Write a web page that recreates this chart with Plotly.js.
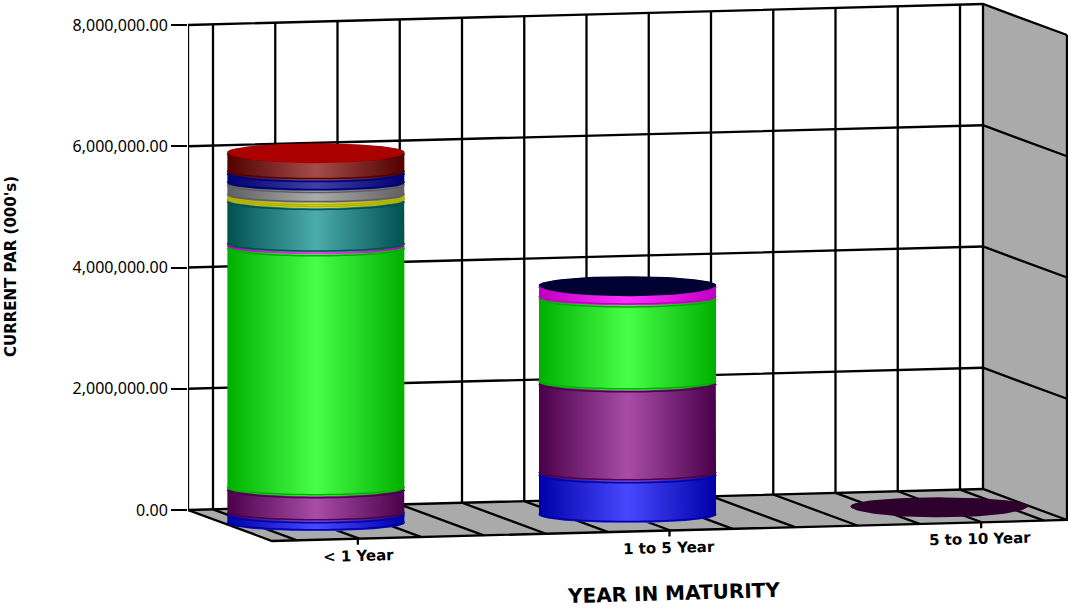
<!DOCTYPE html>
<html><head><meta charset="utf-8">
<script src="https://cdn.plot.ly/plotly-3.0.1.min.js"></script>
<style>html,body{margin:0;padding:0;background:#fff}#c{width:1068px;height:613px}</style>
</head><body><div id="c"></div>
<script>
// ---- data ----
const categories = ["< 1 Year", "1 to 5 Year", "5 to 10 Year"];
const tickValues = [0, 2000000, 4000000, 6000000, 8000000];
const blue     = [165000, 689000, 0];
const purple   = [413000, 1500000, 0];
const green    = [3990000, 1400000, 0];
const magenta  = [30000, 200000, 0];
const teal     = [735000, 0, 0];
const yellow   = [80000, 0, 0];
const gray     = [200000, 0, 0];
const navy     = [180000, 0, 0];
const darkRed  = [330000, 0, 0];
const midnight = [0, 5000, 0];
const plum     = [0, 0, 10000];
const seriesValues = [blue, purple, green, magenta, teal, yellow, gray, navy, darkRed, midnight, plum];
const seriesEdge   = ["#0000a8","#4a004a","#00b000","#c000c0","#005050","#b0b000","#606060","#000070","#520000","#000033","#2e002e"];
const seriesBright = ["#4848ff","#a84ca8","#48ff48","#ff30ff","#4cacac","#f0f040","#acacac","#4040a8","#a44c4c","#000033","#2e002e"];
const seriesCap    = ["#0000ff","#800080","#00ff00","#ff00ff","#008080","#ffff00","#808080","#000033","#aa0000","#000033","#2e002e"];

// ---- oblique projection of the 3D box onto the library's axes ----
const W = 1068, H = 613, LEFT = 188, Y0PX = 510, PXPERUNIT = 485 / 8000000;
const WALLW = 795, DX = 84, DY = 31, RISE = 21;
const xUnit = p => (p - LEFT) / WALLW;
const yUnit = p => (Y0PX - p) / PXPERUNIT;
function proj(X, Z, V) {            // X along wall 0..1, Z depth 0..1, V value
  return [X + Z * DX / WALLW, V + (X * RISE - Z * DY) / PXPERUNIT];
}
function line(pts, color, width) {
  return {type:"scatter", mode:"lines", x:pts.map(p=>p[0]), y:pts.map(p=>p[1]),
    line:{color:color, width:width, simplify:false}, hoverinfo:"skip", showlegend:false, cliponaxis:false};
}
function poly(pts, color) {
  return {type:"scatter", mode:"lines", x:pts.map(p=>p[0]), y:pts.map(p=>p[1]), fill:"toself",
    fillcolor:color, line:{color:color, width:0}, hoverinfo:"skip", showlegend:false};
}
const traces = [];
const WALL = "#aaaaaa", K = "#000000", LW = 2.3;
// floor and right wall
traces.push(poly([proj(0,0,0),proj(1,0,0),proj(1,1,0),proj(0,1,0),proj(0,0,0)], WALL));
traces.push(poly([proj(1,0,0),proj(1,0,8e6),proj(1,1,8e6),proj(1,1,0),proj(1,0,0)], WALL));
// gridlines
const FIRST = 25 / WALLW, STEP = 62.25 / WALLW;
const gridX = [0, 1];
for (let k = 0; k <= 12; k++) gridX.push(FIRST + k * STEP);
gridX.forEach(X => {
  traces.push(line([proj(X,0,0),proj(X,0,8e6)], K, LW));
  if (X > 0 && X < 1) traces.push(line([proj(X,0,0),proj(X,1,0)], K, LW));
});
tickValues.forEach(v => {
  traces.push(line([proj(0,0,v),proj(1,0,v),proj(1,1,v)], K, LW));
});
traces.push(line([proj(0,0,0),proj(0,1,0),proj(1,1,0),proj(1,1,8e6)], K, LW));
// category ticks on the floor's front edge
const catX = [0.108, 0.5, 0.892];
catX.forEach(X => {
  const a = proj(X,1,0);
  traces.push(line([a,[a[0], a[1] - 6 / PXPERUNIT]], K, LW));
});
// cylinders
const RX = 88.5 / WALLW, RY = 8 / PXPERUNIT, STEPS = 48;
function frontArc(cx, cy) { // left to right, along the near side
  const out = [];
  for (let i = 0; i <= STEPS; i++) {
    const t = Math.PI * i / STEPS;
    out.push([cx - RX * Math.cos(t), cy - RY * Math.sin(t)]);
  }
  return out;
}
function backArc(cx, cy, ryUp) { // right to left, along the far side
  const out = [];
  for (let i = 0; i <= STEPS; i++) {
    const t = Math.PI * i / STEPS;
    out.push([cx + RX * Math.cos(t), cy + ryUp * Math.sin(t)]);
  }
  return out;
}
catX.forEach((X, c) => {
  const base = proj(X, 0.5, 0), cx = base[0];
  let cum = base[1], topSeries = -1;
  seriesValues.forEach((vals, s) => {
    const v = vals[c];
    if (!v) return;
    const y0 = cum, y1 = cum + v;
    const pts = frontArc(cx, y0).concat(backArc(cx, y1, RY));
    pts.push(pts[0]);
    const t = poly(pts, seriesEdge[s]);
    t.fillgradient = {type:"horizontal",
      colorscale:[[0,seriesEdge[s]],[0.5,seriesBright[s]],[1,seriesEdge[s]]]};
    delete t.fillcolor;
    traces.push(t);
    if (v * PXPERUNIT >= 4) {
      const px = 1.5 / PXPERUNIT;
      traces.push(line(frontArc(cx, y0 + px), seriesEdge[s], 1.5));
      traces.push(line(frontArc(cx, y1 - px), seriesEdge[s], 1.5));
    }
    cum = y1; topSeries = s;
  });
  // top cap
  const lower = frontArc(cx, cum).map(p => [p[0], cum + (p[1] - cum) * 1.4]);
  const cap = lower.concat(backArc(cx, cum, RY * 1.1));
  cap.push(cap[0]);
  traces.push(poly(cap, seriesCap[topSeries]));
});
// ---- text ----
const FAM = "Noto Sans, DejaVu Sans, sans-serif", BOLD = "DejaVu Sans, sans-serif";
const paperX = p => (p - LEFT) / (W - LEFT);
const paperY = p => 1 - p / H;
const labelPos = [[358,556],[669,548],[980,539]];
const annotations = categories.map((txt,i)=>({
  text:"<b>" + txt.replace("<","&lt;") + "</b>", x:paperX(labelPos[i][0]), y:paperY(labelPos[i][1]), xref:"paper", yref:"paper",
  showarrow:false, textangle:-1.5, xanchor:"center", yanchor:"middle",
  font:{family:BOLD, color:"#000", size:15}
}));
annotations.push({text:"<b>YEAR IN MATURITY</b>", x:paperX(673), y:paperY(593), xref:"paper", yref:"paper",
  showarrow:false, textangle:-1.7, xanchor:"center", yanchor:"middle", font:{family:BOLD, color:"#000", size:20}});
annotations.push({text:"<b>CURRENT PAR (000's)</b>", x:paperX(11), y:paperY(267), xref:"paper", yref:"paper",
  showarrow:false, textangle:-90, xanchor:"center", yanchor:"middle", font:{family:BOLD, color:"#000", size:15}});

const layout = {
  width:W, height:H, margin:{l:LEFT, r:0, t:0, b:0, pad:0},
  paper_bgcolor:"#fff", plot_bgcolor:"#fff", showlegend:false,
  xaxis:{range:[xUnit(LEFT), xUnit(W)], visible:false, fixedrange:true},
  yaxis:{range:[yUnit(H), yUnit(0)], tickmode:"array", tickvals:tickValues,
    tickformat:",.2f", ticks:"outside", ticklen:16, tickwidth:2, tickcolor:"#000",
    showgrid:false, zeroline:false, showline:false, fixedrange:true,
    tickfont:{family:FAM, color:"#000", size:16}},
  annotations:annotations
};
Plotly.newPlot("c", traces, layout, {displayModeBar:false, staticPlot:true});
</script>
</body></html>
